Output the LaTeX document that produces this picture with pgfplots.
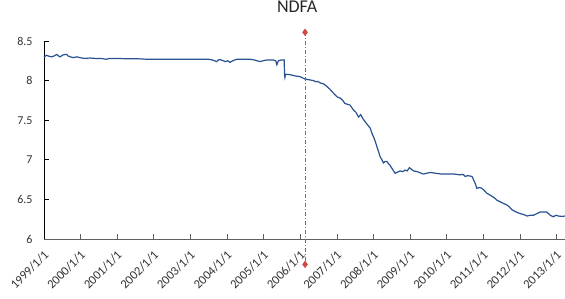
\documentclass[border=0pt]{standalone}
\usepackage{pgfplots}
\pgfplotsset{compat=1.18}
\usepackage{fontspec}
\setmainfont{Carlito}
\definecolor{lineblue}{RGB}{40,82,145}
\definecolor{dred}{RGB}{205,75,70}
\definecolor{tickgray}{RGB}{50,50,50}
\begin{document}
\begin{tikzpicture}
\begin{axis}[
  at={(0,0)}, anchor=south west,
  scale only axis, width=521pt, height=198pt,
  xmin=1999, xmax=2013.23, ymin=6, ymax=8.5,
  axis x line*=bottom, axis y line*=left,
  x axis line style={draw=gray!75!black, -, line width=0.8pt},
  y axis line style={draw=black, -, line width=0.8pt},
  tick align=inside, major tick length=5pt,
  xtick={1999,2000,2001,2002,2003,2004,2005,2006,2007,2008,2009,2010,2011,2012,2013},
  xticklabels={1999/1/1,2000/1/1,2001/1/1,2002/1/1,2003/1/1,2004/1/1,2005/1/1,2006/1/1,2007/1/1,2008/1/1,2009/1/1,2010/1/1,2011/1/1,2012/1/1,2013/1/1},
  xticklabel style={xshift=2.5pt, yshift=-14pt, rotate=45, anchor=east, inner sep=0pt, font=\fontsize{12.5}{14}\selectfont, text=tickgray},
  x tick style={draw=gray!75!black, line width=0.8pt},
  y tick style={draw=black, line width=0.8pt},
  ytick={6,6.5,7,7.5,8,8.5},
  yticklabels={6,6.5,7,7.5,8,8.5},
  yticklabel style={font=\fontsize{12}{14}\selectfont, text=tickgray, xshift=-8pt},
  title={NDFA},
  title style={at={(axis description cs:0.486,1)}, anchor=base, inner sep=0pt, yshift=23pt, font=\fontsize{18}{20}\selectfont, text=black!85},
  clip=false,
]
\addplot[lineblue, line width=1.2pt, mark=none] coordinates {
(1999.00,8.30) (1999.04,8.31) (1999.07,8.32) (1999.12,8.31) (1999.21,8.30) (1999.27,8.31)
(1999.35,8.33) (1999.40,8.31) (1999.44,8.30) (1999.50,8.32) (1999.57,8.33) (1999.62,8.33)
(1999.66,8.31) (1999.72,8.30) (1999.80,8.29) (1999.90,8.30) (1999.98,8.29) (2000.10,8.28)
(2000.26,8.285) (2000.40,8.28) (2000.55,8.28) (2000.70,8.27) (2000.80,8.28) (2001.00,8.28)
(2001.30,8.275) (2001.60,8.275) (2001.80,8.27) (2002.20,8.27) (2002.50,8.27) (2003.00,8.27)
(2003.48,8.27) (2003.60,8.26) (2003.72,8.24) (2003.76,8.26) (2003.81,8.265) (2003.90,8.25)
(2003.95,8.24) (2004.02,8.25) (2004.08,8.23) (2004.15,8.25) (2004.27,8.27) (2004.45,8.27)
(2004.63,8.27) (2004.75,8.26) (2004.90,8.24) (2004.98,8.25) (2005.08,8.26) (2005.18,8.26)
(2005.27,8.26) (2005.33,8.25) (2005.36,8.20) (2005.40,8.25) (2005.48,8.26) (2005.56,8.26)
(2005.57,8.07) (2005.58,8.04) (2005.60,8.08) (2005.72,8.075) (2005.85,8.06) (2005.99,8.05)
(2006.13,8.02) (2006.25,8.01) (2006.36,8.00) (2006.42,7.985) (2006.47,7.99) (2006.55,7.97)
(2006.63,7.96) (2006.72,7.93) (2006.81,7.89) (2006.95,7.82) (2007.02,7.79) (2007.09,7.78)
(2007.16,7.75) (2007.22,7.71) (2007.30,7.70) (2007.36,7.69) (2007.45,7.63) (2007.52,7.60)
(2007.59,7.54) (2007.65,7.57) (2007.71,7.52) (2007.77,7.48) (2007.84,7.44) (2007.91,7.40)
(2007.96,7.33) (2008.00,7.29) (2008.05,7.23) (2008.09,7.17) (2008.14,7.10) (2008.18,7.04)
(2008.23,7.00) (2008.27,6.96) (2008.32,6.98) (2008.36,6.98) (2008.41,6.95) (2008.45,6.93)
(2008.52,6.88) (2008.59,6.83) (2008.68,6.85) (2008.73,6.86) (2008.80,6.85) (2008.86,6.87)
(2008.92,6.86) (2008.98,6.90) (2009.04,6.88) (2009.09,6.86) (2009.20,6.85) (2009.36,6.82)
(2009.45,6.83) (2009.55,6.84) (2009.70,6.83) (2009.85,6.82) (2010.00,6.82) (2010.20,6.82)
(2010.36,6.81) (2010.45,6.815) (2010.50,6.79) (2010.58,6.80) (2010.69,6.79) (2010.73,6.75)
(2010.78,6.70) (2010.82,6.64) (2010.90,6.65) (2010.96,6.64) (2011.03,6.61) (2011.09,6.58)
(2011.20,6.55) (2011.30,6.52) (2011.37,6.49) (2011.50,6.46) (2011.64,6.43) (2011.70,6.41)
(2011.78,6.37) (2011.90,6.34) (2012.01,6.32) (2012.10,6.31) (2012.19,6.29) (2012.28,6.30)
(2012.37,6.30) (2012.46,6.32) (2012.55,6.34) (2012.64,6.34) (2012.73,6.34) (2012.83,6.30)
(2012.91,6.28) (2012.98,6.30) (2013.05,6.29) (2013.15,6.285) (2013.23,6.29)
};
\addplot[draw=dred, color=dred, line width=0.9pt, dash pattern=on 4pt off 2pt on 1pt off 2pt, mark=diamond*, mark size=3pt, mark options={solid, fill=dred, draw=dred}] coordinates {
(2006.13,8.61) (2006.13,5.68)
};
\end{axis}
\pgfresetboundingbox
\path[use as bounding box] (-44pt,-59pt) rectangle (521pt,239pt);
\end{tikzpicture}
\end{document}
